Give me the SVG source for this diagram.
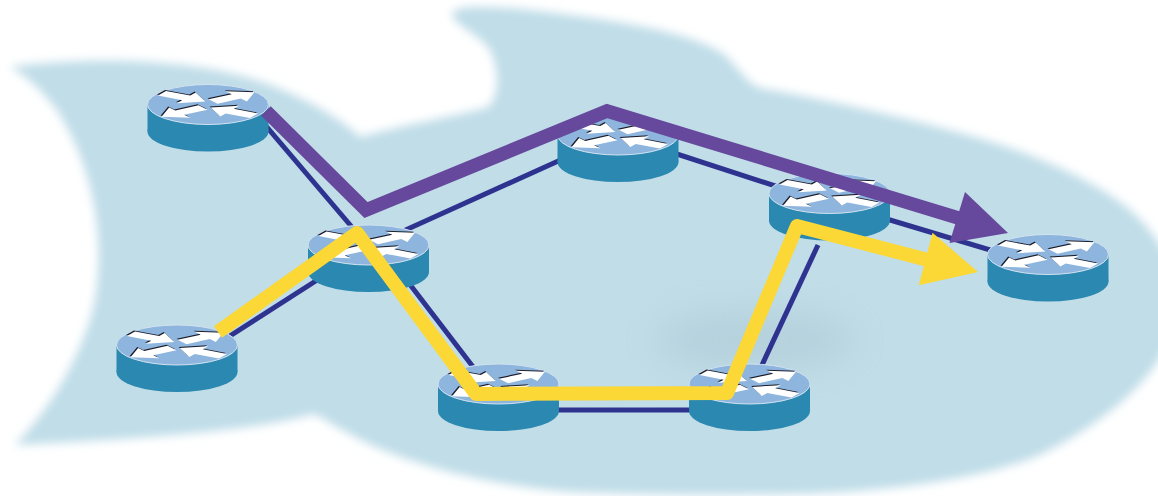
<svg xmlns="http://www.w3.org/2000/svg" xmlns:xlink="http://www.w3.org/1999/xlink" width="1158" height="496" viewBox="0 0 1158 496">
  <style>
    .link { stroke: #2e3390; stroke-width: 5; fill: none; stroke-linecap: butt; }
    .path-purple { stroke: #66489c; stroke-width: 13.5; fill: none; stroke-linejoin: miter; stroke-linecap: butt; }
    .path-yellow { stroke: #fcd836; stroke-width: 14; fill: none; stroke-linejoin: round; stroke-linecap: butt; }
    .head-purple { fill: #66489c; }
    .head-yellow { fill: #fcd836; }
  </style>
  <defs>
    <filter id="soft" x="-5%" y="-5%" width="110%" height="110%">
      <feGaussianBlur stdDeviation="5"/>
    </filter>
    <filter id="smudge" x="-50%" y="-50%" width="200%" height="200%">
      <feGaussianBlur stdDeviation="18"/>
    </filter>
    <!-- one arrow pointing along +x, tail at origin (top-view units) -->
    <polygon id="arrow" points="0,-8 28,-8 28,-19 50,0 28,19 28,8 0,8"/>
    <!-- four arrows of the router glyph, flattened onto the top ellipse -->
    <g id="arrows" transform="scale(1,0.33)">
      <use xlink:href="#arrow" transform="translate(-46,-34) rotate(30)"/>
      <use xlink:href="#arrow" transform="translate(5,-9) rotate(-34)"/>
      <use xlink:href="#arrow" transform="translate(-5,9) rotate(146)"/>
      <use xlink:href="#arrow" transform="translate(46,34) rotate(210)"/>
    </g>
    <!-- router cylinder, origin at the centre of the top face -->
    <g id="router">
      <ellipse cx="0" cy="27" rx="60.5" ry="20" fill="#2b88b0"/>
      <rect x="-60.5" y="0" width="121" height="27" fill="#2b88b0"/>
      <ellipse cx="0" cy="0" rx="60.5" ry="20" fill="#8db5dd" stroke="#d3e3f0" stroke-width="1"/>
      <use xlink:href="#arrows" fill="#1c1c2a" transform="translate(-1,-1)"/>
      <use xlink:href="#arrows" fill="#ffffff"/>
    </g>
  </defs>

  <rect width="1158" height="496" fill="#ffffff"/>

  <!-- network cloud -->
  <g id="cloud">
    <path filter="url(#soft)" fill="#c0dde8" d="M10,67 C90,56 200,58 270,85 C310,100 345,122 360,137 C400,126 455,116 486,108 C500,100 500,70 490,50 C480,35 455,25 452,15 C452,5 480,6 520,9 C600,18 690,30 725,55 C740,70 748,84 760,88 C800,95 900,115 985,140 C1050,160 1100,185 1130,210 C1165,240 1180,280 1178,310 C1170,370 1110,420 1040,455 C980,480 880,492 800,494 C700,496 620,494 570,492 C480,484 420,465 383,450 C350,436 330,422 314,414 C270,426 200,436 15,445 C50,410 85,350 95,300 C105,240 95,170 57,110 C40,88 25,75 10,67 Z"/>
    <ellipse cx="755" cy="340" rx="100" ry="30" fill="#8ea7b4" opacity="0.22" filter="url(#smudge)"/>
  </g>

  <!-- physical links -->
  <g id="connectors">
    <line class="link" x1="255" y1="113" x2="368" y2="246"/>
    <line class="link" x1="368" y1="247" x2="618" y2="134"/>
    <line class="link" x1="180" y1="368" x2="350" y2="259"/>
    <line class="link" x1="395" y1="265" x2="490" y2="389"/>
    <line class="link" x1="640" y1="142" x2="800" y2="194"/>
    <line class="link" x1="850" y1="208" x2="1010" y2="256"/>
    <line class="link" x1="818" y1="245" x2="755" y2="380"/>
    <line class="link" x1="540" y1="410" x2="710" y2="410"/>
  </g>

  <!-- routers -->
  <g id="r1"><use xlink:href="#router" x="208" y="104.5"/></g>
  <g id="r2"><use xlink:href="#router" x="368.5" y="245"/></g>
  <g id="r3"><use xlink:href="#router" x="177" y="345"/></g>
  <g id="r4"><use xlink:href="#router" x="618" y="135"/></g>
  <g id="r5"><use xlink:href="#router" x="829.5" y="193.5"/></g>
  <g id="r6"><use xlink:href="#router" x="1048" y="254.5"/></g>
  <g id="r7"><use xlink:href="#router" x="498.5" y="384"/></g>
  <g id="r8"><use xlink:href="#router" x="749.5" y="384"/></g>

  <!-- traffic paths -->
  <g id="paths">
    <g id="path-yellow">
      <polyline class="path-yellow" points="218,332 357,233 476,394 727,393 797,226 928,260"/>
      <polygon class="head-yellow" points="932.5,232.8 978,272 918.8,285.2"/>
    </g>
    <g id="path-purple">
      <polyline class="path-purple" points="266,111 366,210 607,111 960,218.5"/>
      <polygon class="head-purple" points="965,192 1008,233 949.5,243"/>
    </g>
  </g>
</svg>
